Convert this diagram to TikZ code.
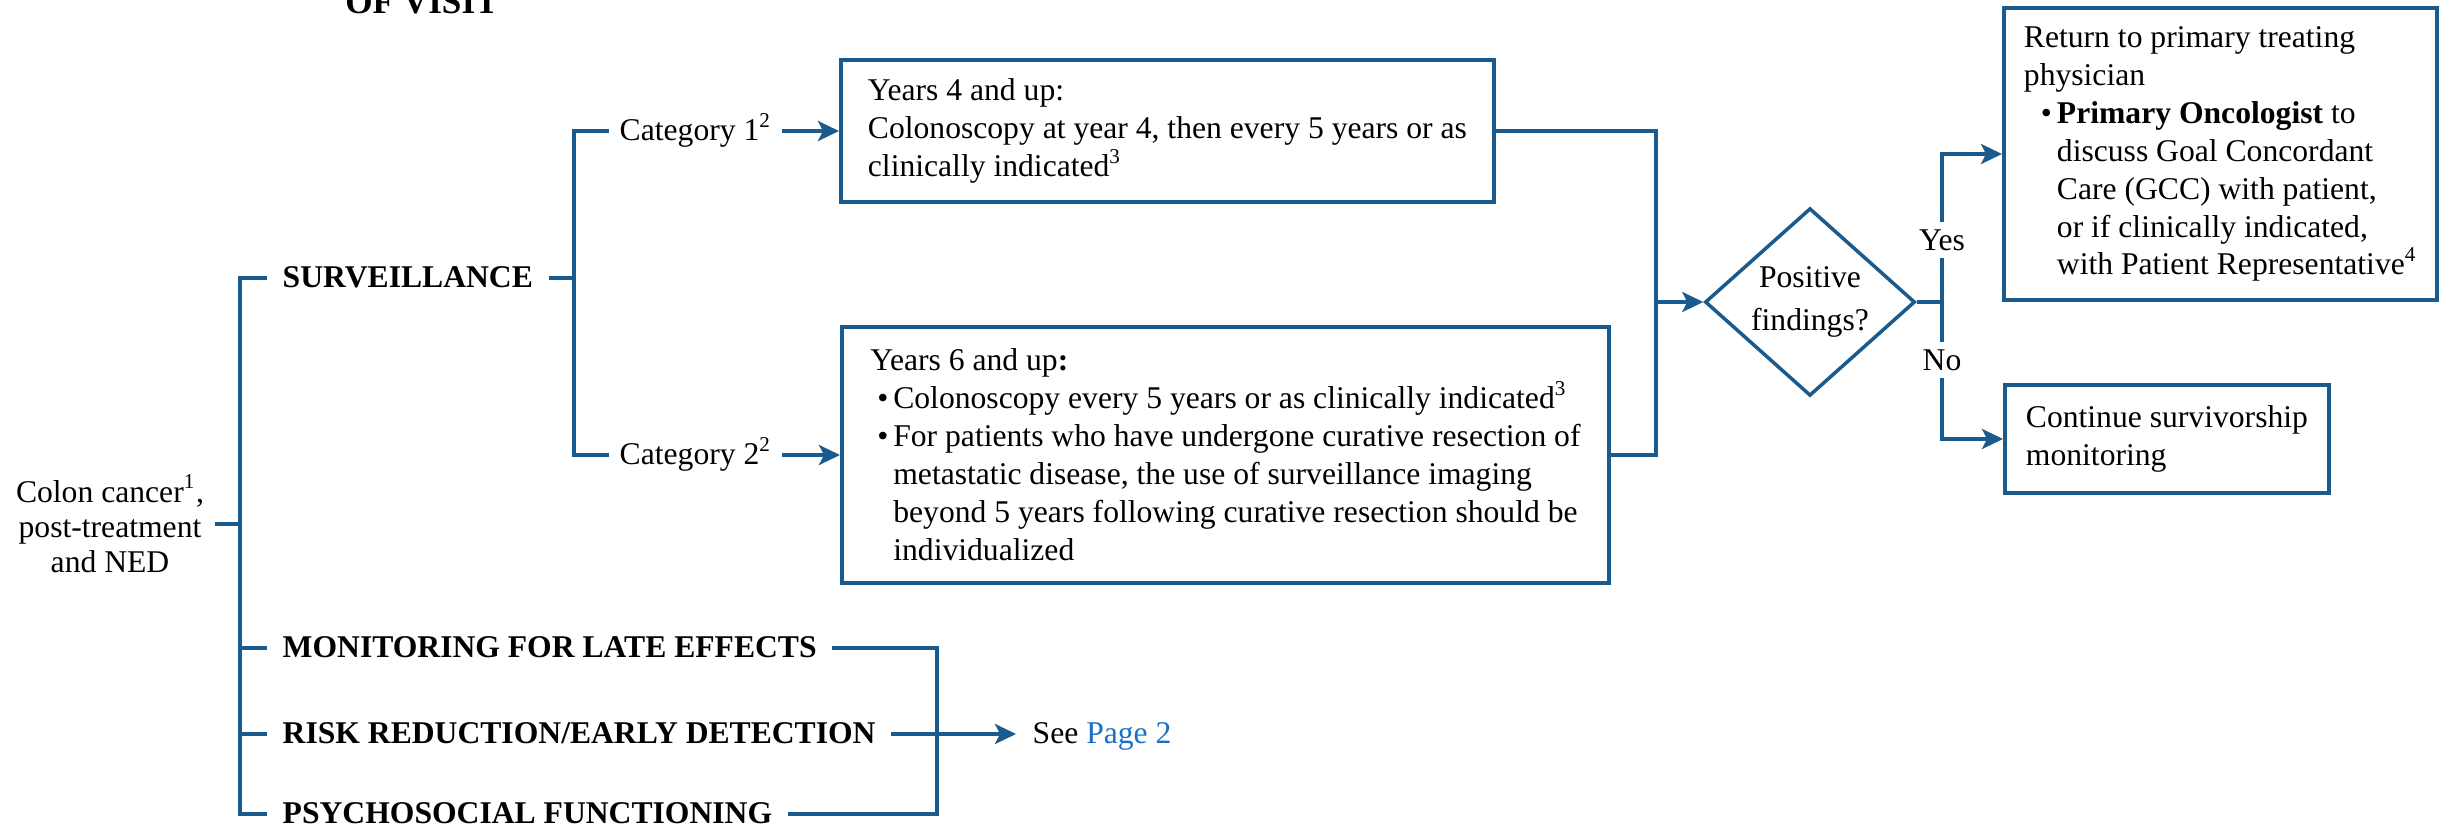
\documentclass[tikz,border=0pt]{standalone}
\usepackage{fontspec}
\setmainfont{Liberation Serif}
\usetikzlibrary{arrows.meta,shapes.geometric}
\definecolor{navy}{HTML}{1B5A8C}
\definecolor{link}{HTML}{1A6FC8}
\newcommand{\bpt}[2][0.07cm]{\hspace*{#1}\makebox[0.16cm][l]{\textbullet}#2}
\newcommand{\bhang}[2][0.23cm]{\hspace*{#1}#2}
\tikzset{
  conn/.style={draw=navy, line width=0.95pt},
  conarr/.style={conn, -{Stealth[length=0.21cm,width=0.2cm,inset=0.05cm]}},
  framebox/.style={draw=navy, line width=1.1pt, align=left, inner xsep=0.2cm, inner ysep=0cm},
  headlab/.style={font=\bfseries, inner xsep=0.15cm, text height=7pt, text depth=1.6pt},
  catlab/.style={inner xsep=0.1cm, text height=7pt, text depth=1.6pt},
  decide/.style={diamond, draw=navy, line width=1pt, inner sep=0pt, minimum width=2.1cm, minimum height=1.82cm, align=center, font=\fontsize{9}{12}\selectfont},
  ynlab/.style={fill=white, inner xsep=0.02cm, inner ysep=0.07cm},
}
\begin{document}
\fontsize{9}{10.8}\selectfont
\begin{tikzpicture}
  \useasboundingbox (0,0) rectangle (24.47,-8.34);
  \node[anchor=base, font=\fontsize{10}{12}\selectfont\bfseries] (visit) at (4.22,-0.13) {OF VISIT};

  % starting point and the four headings
  \node[align=center, font=\fontsize{9}{10}\selectfont, inner xsep=0.1cm] (root) at (1.10,-5.24) {Colon cancer\textsuperscript{1},\\post-treatment\\and NED};
  \coordinate (trunk) at (2.40,-5.24);
  \node[headlab, anchor=west] (surv) at (2.67,-2.78) {SURVEILLANCE};
  \node[headlab, anchor=west] (mon) at (2.67,-6.48) {MONITORING FOR LATE EFFECTS};
  \node[headlab, anchor=west] (risk) at (2.67,-7.34) {RISK REDUCTION/EARLY DETECTION};
  \node[headlab, anchor=west] (psy) at (2.67,-8.14) {PSYCHOSOCIAL FUNCTIONING};
  \draw[conn] (root.east) -- (trunk);
  \draw[conn] (surv.west) -| (trunk) |- (psy.west);
  \draw[conn] (mon.west) -- (mon.west -| trunk);
  \draw[conn] (risk.west) -- (risk.west -| trunk);

  % surveillance categories
  \node[catlab, anchor=west] (cat1) at (6.09,-1.31) {Category 1\textsuperscript{2}};
  \node[catlab, anchor=west] (cat2) at (6.09,-4.55) {Category 2\textsuperscript{2}};
  \coordinate (split) at (5.74,-2.78);
  \draw[conn] (surv.east) -- (split);
  \draw[conn] (cat1.west) -| (split) |- (cat2.west);

  \node[framebox, anchor=west, minimum width=6.53cm, minimum height=1.42cm] (yr4) at (8.39,-1.31)
    {Years 4 and up:\\Colonoscopy at year 4, then every 5 years or as\\clinically indicated\textsuperscript{3}};
  \node[framebox, anchor=west, minimum width=7.67cm, minimum height=2.56cm] (yr6) at (8.40,-4.55)
    {Years 6 and up\textbf{:}\\
     \bpt{Colonoscopy every 5 years or as clinically indicated\textsuperscript{3}}\\
     \bpt{For patients who have undergone curative resection of}\\
     \bhang{metastatic disease, the use of surveillance imaging}\\
     \bhang{beyond 5 years following curative resection should be}\\
     \bhang{individualized}};
  \draw[conarr] (cat1.east) -- (yr4.west);
  \draw[conarr] (cat2.east) -- (yr6.west);

  % decision
  \coordinate (merge) at (16.56,-3.02);
  \draw[conn] (yr4.east) -| (merge) |- (yr6.east);
  \node[decide] (pos) at (18.10,-3.02) {Positive\\findings?};
  \draw[conarr] (merge) -- (pos.west);

  \node[framebox, anchor=west, minimum width=4.30cm, minimum height=2.92cm] (ret) at (20.02,-1.54)
    {Return to primary treating\\physician\\
     \bpt[0.17cm]{\textbf{Primary Oncologist} to}\\
     \bhang[0.33cm]{discuss Goal Concordant}\\
     \bhang[0.33cm]{Care (GCC) with patient,}\\
     \bhang[0.33cm]{or if clinically indicated,}\\
     \bhang[0.33cm]{with Patient Representative\textsuperscript{4}}};
  \node[framebox, anchor=west, minimum width=3.24cm, minimum height=1.08cm] (cont) at (20.03,-4.39)
    {Continue survivorship\\monitoring};
  \coordinate (fork) at (19.42,-3.02);
  \draw[conn] (pos.east) -- (fork);
  \draw[conarr] (fork) |- (ret.west);
  \draw[conarr] (fork) |- (cont.west);
  \node[ynlab] (yes) at (19.42,-2.40) {Yes};
  \node[ynlab] (no) at (19.42,-3.60) {No};

  % remaining headings
  \coordinate (gather) at (9.37,-7.34);
  \draw[conn] (mon.east) -| (gather) |- (psy.east);
  \node[catlab, anchor=west, inner xsep=0.16cm] (see) at (10.16,-7.34) {See \textcolor{link}{Page 2}};
  \draw[conarr] (risk.east) -- (see.west);
\end{tikzpicture}
\end{document}
